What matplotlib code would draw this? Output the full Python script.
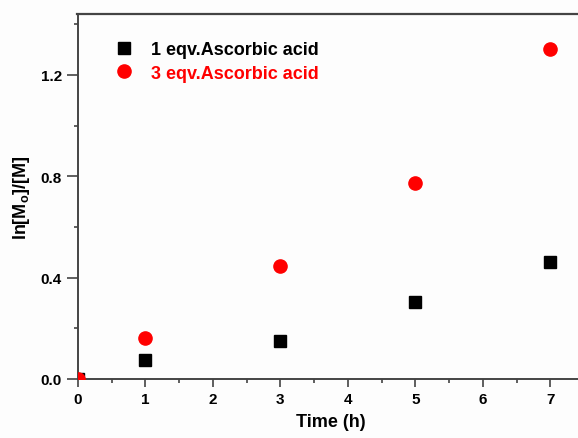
import matplotlib.pyplot as plt
from matplotlib.lines import Line2D
from matplotlib.ticker import MultipleLocator

plt.rcParams['font.family'] = ['Liberation Sans', 'DejaVu Sans']
plt.rcParams['font.weight'] = 'bold'
plt.rcParams['mathtext.fontset'] = 'custom'
plt.rcParams['mathtext.rm'] = 'Liberation Sans:bold'

# datos
tiempo = [0, 1, 3, 5, 7]
eqv1 = [0.0, 0.075, 0.15, 0.303, 0.46]
eqv3 = [0.0, 0.16, 0.445, 0.772, 1.303]
etiquetas = ['1 eqv.Ascorbic acid', '3 eqv.Ascorbic acid']

fig = plt.figure(figsize=(5.78, 4.39), dpi=100)
fig.patch.set_facecolor('#fdfdfd')
# el eje derecho queda fuera de la imagen, como en el original
ax = fig.add_axes([78 / 578, 59 / 439, 506 / 578, 365 / 439])
ax.set_facecolor('#fdfdfd')

ax.plot(tiempo, eqv1, 's', color='black', markersize=8.5, linestyle='none',
        label=etiquetas[0], zorder=3)
ax.plot(tiempo, eqv3, 'o', color='#ff0000', markersize=9.5, linestyle='none',
        label=etiquetas[1], zorder=4)

ax.set_xlim(0, 7.5)
ax.set_ylim(0, 1.44)
ax.xaxis.set_major_locator(MultipleLocator(1))
ax.xaxis.set_minor_locator(MultipleLocator(0.5))
ax.yaxis.set_major_locator(MultipleLocator(0.4))
ax.yaxis.set_minor_locator(MultipleLocator(0.2))
ax.yaxis.set_major_formatter(plt.FuncFormatter(lambda v, p: f'{v:.1f}'))

for s in ax.spines.values():
    s.set_color('#444444')
    s.set_linewidth(1.4)

# borde superior en coordenadas de figura
fig.add_artist(Line2D([77 / 578, 1.0], [424.5 / 439, 424.5 / 439],
                      transform=fig.transFigure, color='#444444', linewidth=1.6))

ax.tick_params(which='both', direction='out', color='#444444', width=1.2,
               labelsize=11, right=False, top=False)
ax.tick_params(which='major', length=6)
ax.tick_params(which='minor', length=3)
ax.tick_params(axis='y', which='major', length=8)
for t in ax.get_xticklabels() + ax.get_yticklabels():
    t.set_fontweight('bold')

ax.set_xlabel('Time (h)', fontsize=13, fontweight='bold', labelpad=5)
ax.set_ylabel(r'ln[M$_\mathregular{o}$]/[M]', fontsize=13, fontweight='bold', labelpad=6)

leg = ax.legend(loc='upper left', bbox_to_anchor=(0.04, 0.97), frameon=False,
                fontsize=13, handletextpad=1.0, labelspacing=0.35,
                handlelength=1.0)
for texto, col in zip(leg.get_texts(), ['black', '#ff0000']):
    texto.set_color(col)
    texto.set_fontweight('bold')

fig.savefig('out.png', dpi=100, facecolor=fig.get_facecolor())
